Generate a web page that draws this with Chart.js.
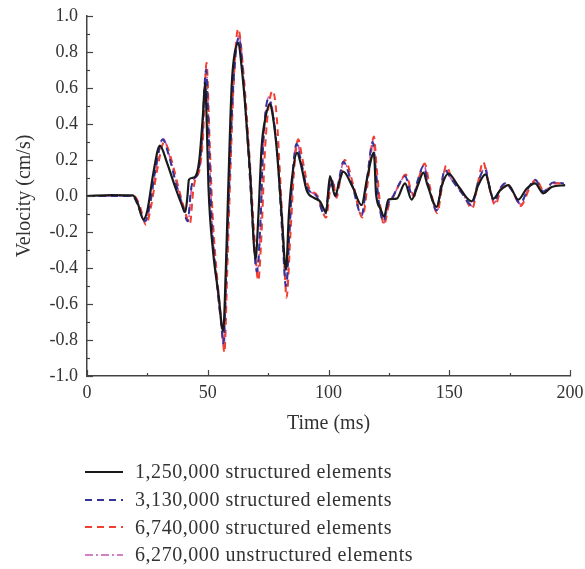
<!DOCTYPE html>
<html lang="en">
<head>
<meta charset="UTF-8">
<title>Velocity</title>
<script src="https://cdn.jsdelivr.net/npm/chart.js"></script>
<style>
    body { margin: 0; background: #fff; }
    #wrap { position: relative; width: 585px; height: 569px; }
    #legend { position: absolute; left: 85px; top: 458px; font-family: "Liberation Serif", serif; font-size: 20px; letter-spacing: 0.55px; color: #333; }
    .item { height: 27.7px; display: flex; align-items: center; }
    .item svg { width: 38px; height: 6px; margin-right: 12px; }
</style>
</head>
<body>
<div id="wrap">
    <canvas id="chart" width="585" height="569"></canvas>
    <div id="legend"></div>
</div>
<script>
// time (ms) / velocity (cm/s) for each mesh
const tBlack = [0, 10, 19, 21, 23.3, 25, 27.5, 30.2, 33, 36.5, 39, 40.7, 41.6, 42.2, 43.5, 45, 46.5, 48, 48.9, 49.6, 50.3, 52.3, 54.4, 56.4, 57.5, 58.5, 59.9, 61, 62.7, 64, 65.4, 67.5, 69.8, 71, 72.3, 73.7, 75.8, 77, 78.5, 80.6, 82.4, 83.6, 84.8, 87, 88.5, 91, 94, 96.5, 99, 100.6, 102.7, 104.5, 106.1, 110, 113.7, 116, 118.8, 119.7, 121.5, 123, 124.8, 128.2, 131.7, 134.4, 137, 139.3, 141, 144.8, 147, 149.6, 154, 159.3, 162, 165, 168.2, 171, 174.5, 178.6, 182, 185.5, 189, 192.4, 198];
const vBlack = [0, 0.005, 0.003, -0.04, -0.13, -0.08, 0.13, 0.28, 0.19, 0.05, -0.04, -0.09, 0.0, 0.09, 0.1, 0.11, 0.2, 0.45, 0.63, 0.4, 0.05, -0.32, -0.54, -0.75, -0.4, 0.05, 0.61, 0.78, 0.85, 0.72, 0.52, 0.14, -0.35, -0.1, 0.27, 0.42, 0.51, 0.44, 0.27, -0.1, -0.41, -0.1, 0.09, 0.24, 0.18, 0.03, -0.01, -0.03, -0.09, 0.11, 0.0, 0.08, 0.135, 0.05, -0.05, 0.1, 0.24, 0.01, -0.07, -0.115, -0.02, -0.015, 0.07, -0.02, 0.06, 0.13, 0.06, -0.06, 0.06, 0.125, 0.05, -0.03, 0.06, 0.12, -0.015, 0.03, 0.06, -0.02, 0.04, 0.07, 0.015, 0.05, 0.06];

const tBlue = [0, 19, 21, 24, 26, 28.5, 31.3, 34, 37, 39.5, 41.7, 43, 44, 46, 47.5, 49.3, 50.5, 51.5, 53.5, 55.5, 56.5, 57.7, 59, 60.5, 62.9, 65, 67, 68.8, 70.3, 71.8, 73, 75.1, 77, 79, 80.8, 82.4, 84, 85.3, 86.8, 88.5, 91, 95, 98.5, 100, 101.3, 103, 104.5, 106.1, 110, 113.7, 116, 118.3, 119.5, 121, 122.7, 124.8, 126.8, 129, 131.7, 134, 135, 137, 139.3, 141.5, 144.8, 146.5, 148.2, 150.5, 155, 159.3, 162, 164.8, 166.5, 168.7, 171, 173, 176, 179.3, 183, 185.5, 189, 193, 197.5];
const vBlue = [0, 0.0, -0.05, -0.14, -0.05, 0.16, 0.315, 0.22, 0.06, -0.05, -0.14, 0.03, 0.09, 0.13, 0.3, 0.70, 0.3, -0.1, -0.45, -0.7, -0.82, -0.4, 0.1, 0.6, 0.88, 0.6, 0.2, -0.2, -0.42, -0.15, 0.3, 0.54, 0.45, 0.2, -0.2, -0.5, -0.15, 0.15, 0.29, 0.2, 0.05, 0.0, -0.105, 0.02, 0.09, 0.0, 0.1, 0.19, 0.05, -0.105, 0.1, 0.3, 0.15, -0.05, -0.14, -0.04, 0.0, 0.06, 0.11, 0.02, 0.0, 0.09, 0.165, 0.05, -0.08, 0.05, 0.145, 0.1, 0.02, -0.05, 0.08, 0.15, 0.06, -0.03, 0.04, 0.07, 0.03, -0.04, 0.05, 0.09, 0.025, 0.075, 0.07];

const tRed = [0, 19.5, 22, 24.4, 26.5, 29, 32, 35, 38, 40.5, 42.6, 44, 45, 46.5, 48, 49.5, 50.8, 52, 54, 56, 56.9, 58, 59.3, 60.8, 62.6, 64.7, 67.3, 69.2, 70.9, 72.3, 73.5, 74.8, 76.9, 78.5, 80, 81.5, 82.6, 84.3, 85.8, 87.5, 89, 91.5, 95.5, 99, 100.5, 101.7, 103.3, 105, 106.7, 110.5, 114, 116.5, 118.8, 120, 121.5, 123, 125, 127, 129.5, 132, 134.5, 135.5, 137.5, 139.8, 142, 145, 147, 148.7, 151, 155.5, 159.5, 162, 164, 166.5, 169, 171.5, 173.5, 176.5, 179.5, 183.5, 186, 189.5, 193.5, 197.5];
const vRed = [0, 0.0, -0.06, -0.16, -0.06, 0.14, 0.3, 0.2, 0.04, -0.08, -0.155, 0.03, 0.1, 0.14, 0.32, 0.74, 0.3, -0.1, -0.47, -0.75, -0.87, -0.45, 0.1, 0.65, 0.93, 0.7, 0.22, -0.2, -0.47, -0.2, 0.2, 0.45, 0.585, 0.45, 0.1, -0.3, -0.565, -0.2, 0.15, 0.315, 0.22, 0.06, 0.0, -0.12, 0.02, 0.09, -0.01, 0.1, 0.2, 0.05, -0.12, 0.1, 0.33, 0.15, -0.06, -0.16, -0.05, 0.0, 0.07, 0.12, 0.02, 0.0, 0.1, 0.18, 0.05, -0.095, 0.05, 0.17, 0.1, 0.02, -0.07, 0.08, 0.19, 0.05, -0.05, 0.04, 0.07, 0.02, -0.055, 0.05, 0.09, 0.02, 0.07, 0.07];

const tPink = [0, 19, 21, 24.2, 26.2, 28.7, 31.5, 34.2, 37.2, 39.7, 41.9, 43.2, 44.2, 46.2, 47.7, 49.4, 50.6, 51.6, 53.6, 55.6, 56.7, 57.8, 59.1, 60.6, 63, 65.1, 67.1, 68.9, 70.5, 71.9, 73.1, 75.3, 77.1, 79.1, 80.9, 82.5, 84.1, 85.4, 87, 88.6, 91.1, 95.1, 98.7, 100.1, 101.4, 103.1, 104.6, 106.3, 110.1, 113.8, 116.1, 118.5, 119.6, 121.1, 122.9, 124.9, 126.9, 129.1, 131.9, 134.1, 135.1, 137.1, 139.5, 141.6, 145, 146.6, 148.4, 150.6, 155.1, 159.4, 162.1, 165, 166.6, 168.8, 171.1, 173.2, 176.1, 179.4, 183.1, 185.7, 189.1, 193.2, 197.5];
const vPink = [0, 0.0, -0.05, -0.14, -0.05, 0.16, 0.32, 0.22, 0.06, -0.05, -0.14, 0.03, 0.09, 0.13, 0.3, 0.71, 0.3, -0.1, -0.46, -0.72, -0.84, -0.42, 0.1, 0.6, 0.89, 0.6, 0.2, -0.2, -0.44, -0.15, 0.3, 0.55, 0.46, 0.2, -0.2, -0.52, -0.16, 0.15, 0.30, 0.2, 0.05, 0.0, -0.11, 0.02, 0.09, 0.0, 0.1, 0.19, 0.05, -0.11, 0.1, 0.31, 0.15, -0.05, -0.15, -0.04, 0.0, 0.06, 0.115, 0.02, 0.0, 0.09, 0.17, 0.05, -0.085, 0.05, 0.15, 0.1, 0.02, -0.055, 0.08, 0.16, 0.06, -0.035, 0.04, 0.07, 0.03, -0.045, 0.05, 0.09, 0.025, 0.075, 0.07];

const labels = ['1,250,000 structured elements', '3,130,000 structured elements', '6,740,000 structured elements', '6,270,000 unstructured elements'];
const colors = ['#1a1a1a', '#33339a', '#f2402e', '#c457b4'];
const dashes = [[], [7, 5], [7, 5], [8, 3, 2, 3]];
const widths = [2.2, 2, 2, 1.6];

function pts(t, v) { return t.map((x, i) => ({ x: x, y: v[i] })); }
const series = [pts(tBlack, vBlack), pts(tBlue, vBlue), pts(tRed, vRed), pts(tPink, vPink)];

const tickFont = { family: '"Liberation Serif", serif', size: 18 };
const titleFont = { family: '"Liberation Serif", serif', size: 20 };

// inward tick marks, major + minor
const innerTicks = {
    id: 'innerTicks',
    afterDraw(chart) {
        const c = chart.ctx, xs = chart.scales.x, ys = chart.scales.y;
        const a = chart.chartArea;
        c.save();
        c.strokeStyle = '#444';
        c.lineWidth = 1.2;
        for (let v = 0; v <= 200; v += 25) {
            const px = Math.round(xs.getPixelForValue(v)) + 0.5;
            const len = v % 50 === 0 ? 6 : 3;
            c.beginPath(); c.moveTo(px, a.bottom); c.lineTo(px, a.bottom - len); c.stroke();
        }
        for (let i = -10; i <= 10; i++) {
            const py = Math.round(ys.getPixelForValue(i / 10)) + 0.5;
            const len = i % 2 === 0 ? 6 : 3;
            c.beginPath(); c.moveTo(a.left, py); c.lineTo(a.left + len, py); c.stroke();
        }
        c.restore();
    }
};

new Chart(document.getElementById('chart'), {
    type: 'line',
    data: {
        datasets: series.map((d, i) => ({
            label: labels[i],
            data: d,
            borderColor: colors[i],
            borderDash: dashes[i],
            borderWidth: widths[i],
            pointRadius: 0,
            fill: false,
            cubicInterpolationMode: 'monotone'
        }))
    },
    options: {
        responsive: false,
        animation: false,
        layout: { padding: { left: 0, right: 15, top: 16, bottom: 133 } },
        plugins: { legend: { display: false }, tooltip: { enabled: false } },
        scales: {
            x: {
                type: 'linear', min: 0, max: 200,
                afterFit(s) { s.height = 60; s.paddingLeft = 0; s.paddingRight = 0; },
                grid: { display: false, drawTicks: false },
                border: { display: true, color: '#444', width: 1.5 },
                ticks: { stepSize: 50, color: '#333', font: tickFont, padding: 6, maxRotation: 0 },
                title: { display: true, text: 'Time (ms)', color: '#333', font: titleFont, padding: { top: 0, bottom: 0 } }
            },
            y: {
                min: -1, max: 1,
                afterFit(s) { s.width = 87; s.paddingTop = 0; s.paddingBottom = 0; },
                grid: { display: false, drawTicks: false },
                border: { display: true, color: '#444', width: 1.5 },
                ticks: { stepSize: 0.2, color: '#333', font: tickFont, padding: 9, callback: v => v.toFixed(1) },
                title: { display: true, text: 'Velocity (cm/s)', color: '#333', font: titleFont, padding: { top: 13, bottom: 0 } }
            }
        }
    },
    plugins: [innerTicks]
});

// legend under the plot
const lg = document.getElementById('legend');
labels.forEach((txt, i) => {
    const row = document.createElement('div');
    row.className = 'item';
    row.innerHTML = '<svg viewBox="0 0 38 6"><line x1="0" y1="3" x2="38" y2="3" stroke="' + colors[i] +
        '" stroke-width="' + widths[i] + '" stroke-dasharray="' + (dashes[i].join(' ') || 'none') + '"/></svg><span>' + txt + '</span>';
    lg.appendChild(row);
});
</script>
</body>
</html>
